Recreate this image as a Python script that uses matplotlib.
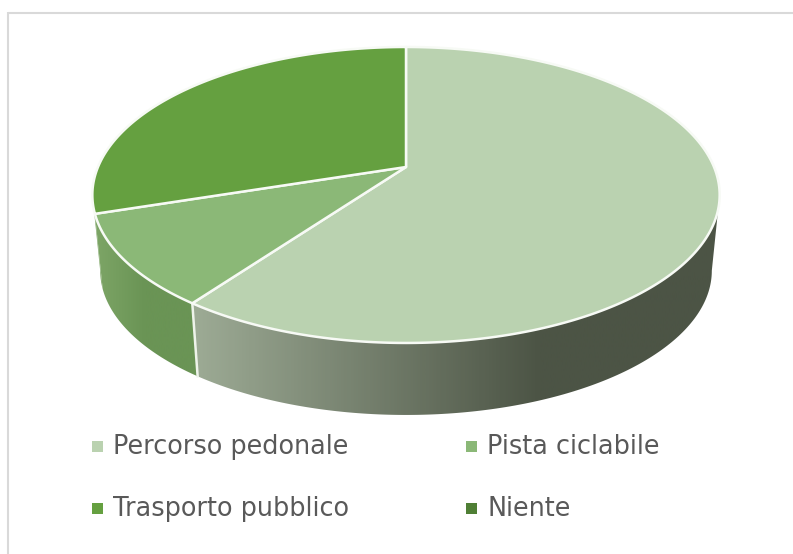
import numpy as np
import matplotlib.pyplot as plt
from matplotlib.colors import LinearSegmentedColormap
from matplotlib.patches import Polygon, Rectangle

categories = ['Percorso pedonale', 'Pista ciclabile', 'Trasporto pubblico', 'Niente']
values = [60, 10, 30, 0]
colors = ['#bad2b0', '#8bb877', '#65a040', '#4f7f35']

# gradient colours of the side wall, left to right
wall_stops = [
    ['#9dab95', '#4c5445', '#4c5445'],
    ['#7fa768', '#6a9455', '#6a9455'],
    ['#7fa768', '#7fa768', '#7fa768'],
    ['#4f7f35', '#4f7f35', '#4f7f35'],
]
wall_ranges = [(192, 540), (90, 200), (85, 110), (85, 110)]

legend_x = [92, 466, 92, 466]
legend_y = [446, 446, 508, 508]

# pie plane seen in perspective, in pixels
cx, cy = 406, 167
b, a, k = 308, 142.7, 0.189
scale_low, cy_low = 0.975, 243.4
# where the rim turns away from the viewer
side_deg = np.degrees(np.arccos(-k))


def project(deg, s=1.0, y0=cy):
    t = np.radians(deg)
    u, v = np.sin(t), np.cos(t)
    w = 1 + k * v
    return cx + s * b * u / w, y0 - s * a * v / w


fig = plt.figure(figsize=(7.93, 5.54), dpi=100)
ax = fig.add_axes([0, 0, 1, 1])
ax.set_xlim(0, 793)
ax.set_ylim(554, 0)
ax.axis('off')

# only the top and left of the frame are in the picture
ax.plot([8, 793], [12.5, 12.5], color='#d9d9d9', lw=1.5, solid_capstyle='butt')
ax.plot([8, 8], [12, 554], color='#d9d9d9', lw=1.5, solid_capstyle='butt')

edges = np.concatenate([[0], np.cumsum(values)]) * 360.0 / sum(values)

# side walls first
for i in range(len(values)):
    start = max(edges[i], side_deg)
    end = min(edges[i + 1], 360 - side_deg)
    if end <= start:
        continue
    t = np.linspace(start, end, 150)
    x1, y1 = project(t)
    x2, y2 = project(t[::-1], scale_low, cy_low)
    pts = np.column_stack([np.r_[x1, x2], np.r_[y1, y2]])
    poly = Polygon(pts, fc='none', ec='none')
    ax.add_patch(poly)
    cmap = LinearSegmentedColormap.from_list('wall', wall_stops[i])
    x0, x3 = wall_ranges[i]
    if i == 0:
        grad = np.clip(np.linspace(0, 608 / (540 - x0) * 0.5, 256), 0, 1).reshape(1, -1)
        im = ax.imshow(grad, cmap=cmap, extent=[x0, 800, 554, 0], aspect='auto', zorder=2, vmin=0, vmax=1)
    else:
        grad = np.linspace(0, 1, 256).reshape(1, -1)
        im = ax.imshow(grad, cmap=cmap, extent=[x0, x3, 554, 0], aspect='auto', zorder=2, vmin=0, vmax=1)
    im.set_clip_path(poly)

# separator between the two front walls
xa, ya = project(edges[1])
xb, yb = project(edges[1], scale_low, cy_low)
ax.plot([xa, xb], [ya, yb], color='#eef3ea', lw=1.8, zorder=3)

# top faces
for i in range(len(values)):
    if values[i] == 0:
        continue
    t = np.linspace(edges[i], edges[i + 1], 300)
    x, y = project(t)
    pts = np.column_stack([np.r_[cx, x], np.r_[cy, y]])
    ax.add_patch(Polygon(pts, fc=colors[i], ec='#f7faf5', lw=1.8, joinstyle='round', zorder=4))

ax.set_xlim(0, 793)
ax.set_ylim(554, 0)

# legend
for i in range(len(categories)):
    ax.add_patch(Rectangle((legend_x[i], legend_y[i] - 5), 10.5, 10.5, fc=colors[i], ec='none', zorder=5))
    ax.text(legend_x[i] + 21, legend_y[i] + 1, categories[i], fontsize=18.4, color='#595959',
            family='DejaVu Sans', va='center', ha='left', zorder=5)

fig.savefig('out.png', dpi=100)
